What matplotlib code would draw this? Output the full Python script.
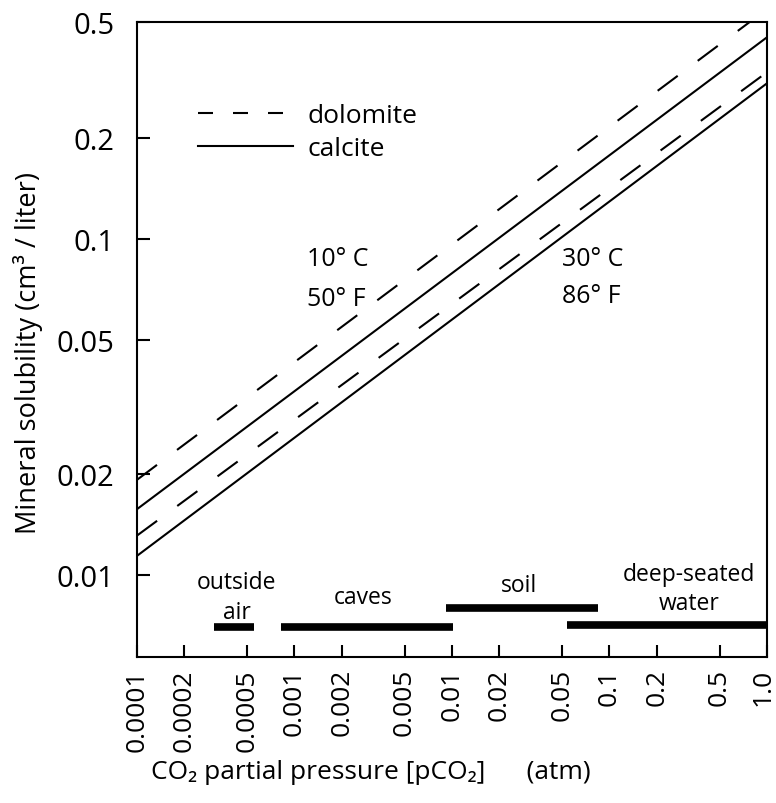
import matplotlib
matplotlib.use("Agg")
import matplotlib.pyplot as plt
from matplotlib.lines import Line2D
from matplotlib.transforms import ScaledTranslation

plt.rcParams['font.family'] = ['Open Sans', 'DejaVu Sans']

# ---- data ----
pco2_ends = [0.0001, 1.0]
dolomite_10C = [0.0192, 0.484]
calcite_10C = [0.0157, 0.399]
dolomite_30C = [0.0131, 0.314]
calcite_30C = [0.0114, 0.291]

env_names = ["outside\nair", "caves", "soil", "deep-seated\nwater"]
env_start = [0.00031, 0.00082, 0.0091, 0.054]
env_end = [0.00055, 0.0102, 0.085, 1.0]
env_level = [0.0070, 0.0070, 0.0080, 0.0071]

xticks = [0.0001, 0.0002, 0.0005, 0.001, 0.002, 0.005, 0.01, 0.02, 0.05, 0.1, 0.2, 0.5, 1.0]
xticklabels = ["0.0001", "0.0002", "0.0005", "0.001", "0.002", "0.005", "0.01", "0.02",
               "0.05", "0.1", "0.2", "0.5", "1.0"]
y_top = 0.443
y_bottom = 0.0057
yticks = [0.01, 0.02, 0.05, 0.1, 0.2, y_top]
yticklabels = ["0.01", "0.02", "0.05", "0.1", "0.2", "0.5"]

fig = plt.figure(figsize=(7.76, 8.04), dpi=100)
ax = fig.add_axes([0.1765, 0.1816, 0.8119, 0.7898])
ax.set_xscale('log')
ax.set_yscale('log')

lw = 1.5
ax.plot(pco2_ends, dolomite_10C, color='black', lw=lw, dashes=(12, 12))
ax.plot(pco2_ends, calcite_10C, color='black', lw=lw)
ax.plot(pco2_ends, dolomite_30C, color='black', lw=lw, dashes=(12, 12))
ax.plot(pco2_ends, calcite_30C, color='black', lw=lw)

ax.hlines(env_level, env_start, env_end, colors='black', lw=5.5, capstyle='butt')

label_pos = [(0.00043, 0.00860), (0.00271, 0.00860), (0.0267, 0.00935), (0.321, 0.00910)]
for name, (lx, ly) in zip(env_names, label_pos):
    ax.text(lx, ly, name, ha='center', va='center', fontsize=16.5, linespacing=1.3)

ax.set_xlim(pco2_ends[0], pco2_ends[1])
ax.set_ylim(y_bottom, y_top)
ax.minorticks_off()
ax.set_xticks(xticks)
ax.set_xticklabels(xticklabels, rotation=90, fontsize=19)
ax.set_yticks(yticks)
ax.set_yticklabels(yticklabels, fontsize=21)
ax.tick_params(direction='in', length=9, width=1.5)
ax.tick_params(axis='x', pad=8)
ax.tick_params(axis='y', pad=16)
for s in ax.spines.values():
    s.set_linewidth(1.5)
# nudge the last x tick label so it stays inside the figure
last = ax.xaxis.get_major_ticks()[-1].label1
last.set_transform(last.get_transform() + ScaledTranslation(-0.035, 0, fig.dpi_scale_trans))

ax.set_ylabel("Mineral solubility (cm³ / liter)", fontsize=19.5)
ax.yaxis.set_label_coords(-0.173, 0.480)
ax.yaxis.label.set_rotation_mode('default')
ax.yaxis.label.set_va('center')
ax.yaxis.label.set_ha('center')
ax.set_xlabel("CO\u2082 partial pressure [pCO\u2082]      (atm)", fontsize=19)
ax.xaxis.set_label_coords(0.371, -0.181)
ax.xaxis.label.set_va('center')

ax.text(0.27, 0.627, "10° C", transform=ax.transAxes, fontsize=18, va='center')
ax.text(0.27, 0.565, "50° F", transform=ax.transAxes, fontsize=18, va='center')
ax.text(0.675, 0.627, "30° C", transform=ax.transAxes, fontsize=18, va='center')
ax.text(0.675, 0.570, "86° F", transform=ax.transAxes, fontsize=18, va='center')

handles = [Line2D([], [], color='black', lw=lw, dashes=(7.2, 9.6)),
           Line2D([], [], color='black', lw=lw)]
ax.legend(handles, ["dolomite", "calcite"], loc='upper left', bbox_to_anchor=(0.08, 0.889),
          frameon=False, fontsize=19, handlelength=3.6, handletextpad=0.55,
          labelspacing=0.3, borderaxespad=0)

fig.savefig("out.png", dpi=100)
